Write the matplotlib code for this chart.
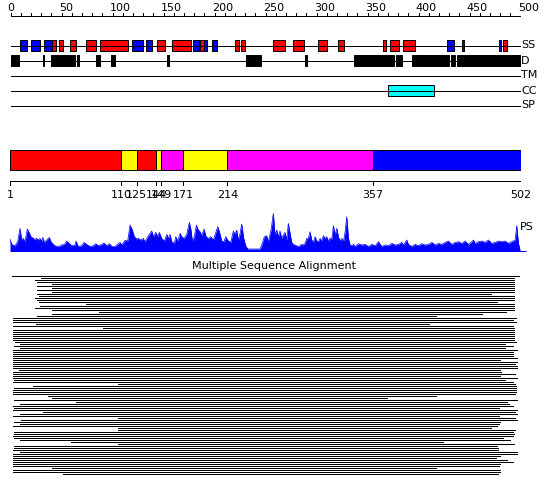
import matplotlib
matplotlib.use("Agg")
import matplotlib.pyplot as plt

# secondary structure: helices (red) and strands (blue), residue ranges
helix_start = [41, 48, 58, 74, 88, 144, 158, 186, 220, 226, 257, 277, 301, 321, 365, 372, 385, 483]
helix_end = [45, 51, 64, 84, 115, 151, 177, 190, 224, 230, 269, 288, 310, 327, 368, 381, 397, 487]
strand_start = [9, 20, 33, 119, 133, 179, 190, 198, 428, 443, 479]
strand_end = [16, 29, 41, 130, 139, 185, 193, 202, 435, 445, 481]

# disorder segments
dis_start = [0, 31.5, 40, 65, 84, 98.5, 153, 231, 289, 337, 378, 394, 399, 432, 438]
dis_end = [8, 33, 63, 67, 87.5, 102.5, 155, 246, 291, 376, 384, 398.5, 430, 436, 500]

# coiled coil
cc_start = [370]
cc_end = [415]

track_names = ["SS", "D", "TM", "CC", "SP"]

# domain bar
dom_bounds = [1, 110, 125, 144, 149, 171, 214, 357, 502]
dom_colors = ["#ff0000", "#ffff00", "#ff0000", "#ffff00", "#ff00ff", "#ffff00", "#ff00ff", "#0000ff"]

# PS profile
ps_pos = [0, 1.6, 4.9, 7.5, 9.8, 11.5, 13.1, 14.7, 17, 18.7,
          20.6, 23, 24.6, 26.2, 27.8, 29.5, 31.1, 32.1, 33.8, 36,
          38.6, 40.3, 42.6, 44.2, 47.5, 50.8, 53.4, 55.7, 58, 60.6,
          63.9, 64.8, 67.1, 70.4, 72.7, 75.3, 78.6, 81.9, 84.2, 86.8,
          90.1, 92.4, 95, 97.6, 99.9, 103.2, 105.5, 108.1, 109.7, 113,
          115.6, 117.9, 120.2, 122.1, 124.4, 126.1, 128.7, 131, 132.6, 135.3,
          137.6, 139.2, 140.9, 143.2, 145.1, 146.7, 149, 151.7, 154, 155.6,
          157.2, 158.9, 161.5, 162.8, 164.8, 167.1, 168.7, 171, 173.6, 176.2,
          177.8, 179.1, 181.1, 183.1, 185, 186.7, 188.3, 190.6, 192.6, 194.9,
          197.2, 199.8, 202.4, 204.1, 205.7, 208, 210.2, 211.9, 214.5, 216.8,
          219.4, 221.1, 222.7, 224.3, 226, 227.6, 229.6, 231.5, 233.5, 245.6,
          247.2, 249.9,
          252.1, 253.7, 256.4, 258.7, 260.3, 262, 263.6, 265.2, 266.9, 268.5,
          270.2, 271.8, 273.4, 275.1, 276.7, 278.4, 280, 283.3, 286.5, 288.2,
          289.8, 291.5, 293.1, 294.7, 296.4, 298, 299.7, 301.3, 302.9, 304.6,
          306.2, 307.9, 309.5, 311.1, 312.8, 314.4, 316.1, 317.7, 319.4, 321,
          322.6, 324.3, 325.9, 327.6, 329.2, 330.8, 332.5, 334.1, 335.8, 337.4,
          339.1, 342.4, 345.6, 348.9, 352.2, 355.5, 358.7, 362, 363.6, 365.3,
          368.5, 371.8, 375.1, 378.4, 381.6, 384.9, 386.5, 389.8, 391.4, 394.7,
          398, 401.3, 404.5, 407.8, 411.1, 414.4, 417.6, 420.9, 424.2, 427.4,
          430.7, 434, 437.3, 440.5, 443.8, 447.1, 450.4, 453.6, 455.3, 456.9,
          460.2, 463.5, 466.7, 470, 473.3, 476.6, 479.8, 483.1, 486.4, 489.7,
          492.9, 496.2, 497.8, 499.5, 501.1]
ps_val = [11.7, 6.3, 5, 9, 22.3, 10.7, 12.3, 9, 21.7, 18.3,
          14, 12.3, 11.3, 12.3, 10.7, 12.3, 9, 13.3, 8.3, 10.7,
          13.3, 9, 6.3, 5, 4, 5.7, 6.3, 9.7, 7.3, 5,
          5.7, 9.7, 4.3, 5, 8.3, 6.3, 4.3, 5, 7, 5,
          6.3, 7.7, 5, 7, 4.3, 4.3, 6.3, 8.3, 5.7, 10.3,
          9.7, 25.7, 20.7, 14, 11.7, 12.3, 10.7, 12.3, 9, 14,
          17.3, 19.7, 14, 18.3, 14, 18.3, 12.3, 9.7, 16.3, 12.3,
          16.3, 9, 7.3, 14, 9.7, 17.3, 14, 12.3, 16.3, 28.3,
          20.7, 9.7, 14, 25.7, 20.7, 19, 15, 21.7, 14, 12.3,
          14, 10.7, 19, 24, 19, 9.7, 9, 14, 9.7, 8.3,
          19.7, 16.3, 20.7, 10.7, 17.3, 26.7, 12.3, 5, 1.7, 1.7,
          5.7, 14,
          15, 9, 20.7, 37.3, 15.7, 20.7, 14, 19.7, 12.3, 15.7,
          18.3, 10.7, 27.3, 17.3, 8.3, 6.3, 5.7, 4, 6.3, 5.7,
          7.3, 12.3, 12.3, 19, 10.7, 8.3, 14, 9.7, 9, 12.3,
          9.7, 15, 12.3, 14, 9.7, 12.3, 11.7, 25, 15.7, 22.3,
          14, 9.7, 12.3, 9, 19, 34, 12.3, 5.7, 5, 6.3,
          4.3, 7, 5.7, 6.3, 4.3, 6.3, 5, 9, 6.3, 4.3,
          5.7, 5, 7.3, 5.7, 6.3, 8.3, 5.7, 10.7, 6.3, 4.3,
          6.3, 5, 7, 5.7, 6.3, 8.3, 5.7, 7.3, 6.3, 8.3,
          9.7, 6.3, 8.3, 9, 7.3, 9.7, 6.3, 9, 10.7, 7.3,
          9, 9.7, 8.3, 10.7, 7.3, 8.3, 9.7, 9, 9.7, 7.3,
          9, 10.7, 25, 7.3, 0.7]

# multiple sequence alignment: aligned span of each sequence
msa_start = [2, 30, 25, 27, 41, 27, 41, 27, 41, 27,
             28, 25, 27, 28, 75, 29, 25, 41, 87, 41,
             27, 3, 3, 3, 26, 3, 91, 3, 3, 3,
             3, 3, 3, 5, 10, 4, 10, 3, 3, 3,
             3, 3, 3, 3, 3, 3, 3, 9, 3, 3,
             3, 3, 4, 3, 106, 23, 4, 3, 3, 3,
             37, 41, 4, 65, 10, 3, 4, 3, 32, 10,
             3, 106, 11, 4, 10, 3, 106, 106, 4, 4,
             3, 4, 10, 60, 106, 4, 4, 3, 10, 3,
             3, 3, 3, 3, 3, 3, 41, 3, 3, 52]
msa_end = [502, 495, 495, 495, 495, 495, 495, 495, 495, 473,
           495, 495, 495, 478, 495, 495, 495, 495, 487, 464,
           418, 497, 494, 497, 412, 494, 495, 495, 495, 495,
           495, 495, 495, 497, 486, 494, 486, 498, 494, 494,
           494, 498, 481, 498, 496, 498, 498, 481, 482, 496,
           481, 498, 486, 494, 496, 497, 497, 497, 497, 496,
           418, 370, 498, 488, 490, 494, 480, 498, 496, 498,
           480, 496, 498, 481, 480, 478, 473, 496, 494, 495,
           494, 484, 491, 425, 495, 478, 479, 479, 498, 498,
           481, 477, 488, 494, 481, 480, 418, 481, 481, 479]

W, H = 550, 495
PX = 0.72  # one pixel in points
FS = 8

fig = plt.figure(figsize=(W / 100, H / 100), dpi=100)
fig.patch.set_facecolor("white")


def pix_axes(x0, y0, x1, y1):
    ax = fig.add_axes([x0 / W, 1 - y1 / H, (x1 - x0) / W, (y1 - y0) / H])
    ax.set_axis_off()
    return ax


# ---- ruler and feature tracks ----
ax = pix_axes(10.5, 0, 520.5, 112)
ax.set_xlim(0, 500)
ax.set_ylim(112, 0)

ax.hlines(15.5, 0, 500, color="black", lw=PX, antialiased=False)
ax.vlines(range(0, 501, 10), 12.5, 15.5, color="black", lw=PX, antialiased=False)
for t in range(0, 501, 50):
    ax.annotate(str(t), (t, 11), xytext=(-2, 0), textcoords="offset points",
                ha="left", va="baseline", fontsize=FS)

track_y = [45.5, 60.5, 75.5, 90.5, 105.5]
for name, y in zip(track_names, track_y):
    ax.hlines(y, 0, 500, color="black", lw=PX, antialiased=False)
    ax.annotate(name, (500, y), xytext=(0.5, 0), textcoords="offset points",
                ha="left", va="center", fontsize=FS)

ax.barh(track_y[0], [e - s for s, e in zip(strand_start, strand_end)], left=strand_start,
        height=10.5, color="#0000ff", edgecolor="black", lw=PX)
ax.barh(track_y[0], [e - s for s, e in zip(helix_start, helix_end)], left=helix_start,
        height=10.5, color="#ff0000", edgecolor="black", lw=PX)
ax.barh(track_y[1], [e - s for s, e in zip(dis_start, dis_end)], left=dis_start,
        height=11, color="black", edgecolor="black", lw=PX)
ax.barh(track_y[3], [e - s for s, e in zip(cc_start, cc_end)], left=cc_start,
        height=11, color="#00ffff", edgecolor="black", lw=PX)

# ---- domain bar ----
axd = pix_axes(10.3, 140, 520.7, 205)
axd.set_xlim(1, 502)
axd.set_ylim(205, 140)
axd.barh(160.3, [b - a for a, b in zip(dom_bounds[:-1], dom_bounds[1:])], left=dom_bounds[:-1],
         height=20, color=dom_colors, edgecolor="black", lw=PX)
axd.hlines(180.5, 1, 502, color="black", lw=PX, antialiased=False)
axd.vlines(dom_bounds, 180.5, 184.5, color="black", lw=PX, antialiased=False)
for b in dom_bounds:
    axd.text(b, 195, str(b), ha="center", va="center", fontsize=FS)

# ---- PS profile ----
axp = pix_axes(10, 210.7, 520, 250.7)
axp.set_xlim(0, 501)
axp.set_ylim(0, 40)
axp.fill_between(ps_pos, 0, ps_val, color="#0000ff", lw=0)
axp.plot(ps_pos, ps_val, color="#0000ff", lw=0.5)
axp.hlines(0, 0, 507, color="#0000ff", lw=PX, clip_on=False)
axp.text(1.0, 0.6, "PS", transform=axp.transAxes, ha="left", va="center", fontsize=FS)

# ---- multiple sequence alignment ----
fig.text(274 / W, 1 - 266 / H, "Multiple Sequence Alignment", ha="center", va="center", fontsize=FS)
axm = pix_axes(10, 274.5, 520, 475.5)
axm.set_xlim(0, 501)
axm.set_ylim(len(msa_start) - 0.5, -0.5)
axm.hlines(range(len(msa_start)), msa_start, msa_end, color="black", lw=PX, antialiased=False)

plt.savefig("out.png", dpi=100, facecolor="white")
